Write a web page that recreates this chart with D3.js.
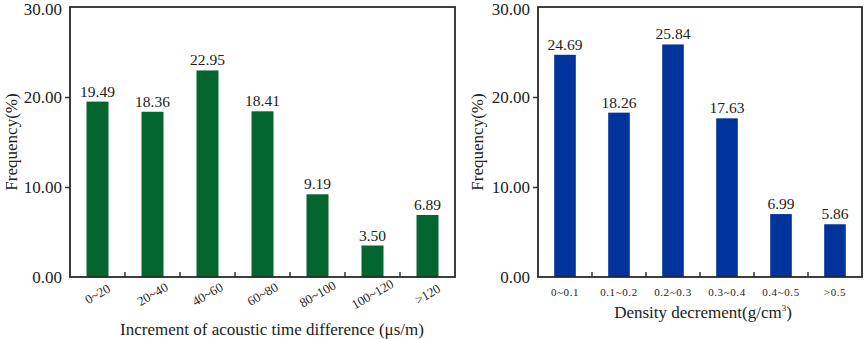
<!DOCTYPE html>
<html>
<head>
<meta charset="utf-8">
<script src="https://cdn.jsdelivr.net/npm/d3@7"></script>
<style>
  body { margin: 0; background: #fff; }
  svg text { font-family: "Liberation Serif", "Times New Roman", serif; fill: #222; }
</style>
</head>
<body>
<div id="chart"></div>
<script>
// data
var acousticCats = ['0~20', '20~40', '40~60', '60~80', '80~100', '100~120', '>120'];
var acousticFreq = [19.49, 18.36, 22.95, 18.41, 9.19, 3.50, 6.89];
var densityCats = ['0~0.1', '0.1~0.2', '0.2~0.3', '0.3~0.4', '0.4~0.5', '>0.5'];
var densityFreq = [24.69, 18.26, 25.84, 17.63, 6.99, 5.86];
var yTicks = [0, 10, 20, 30];

var svg = d3.select('#chart').append('svg')
    .attr('width', 865)
    .attr('height', 339);

function drawPanel(cfg) {
    var x = d3.scaleBand()
        .domain(cfg.cats)
        .range([cfg.left, cfg.right])
        .paddingInner(0.6)
        .paddingOuter(0.3);
    var y = d3.scaleLinear()
        .domain([0, 30])
        .range([cfg.bottom, cfg.top]);
    var g = svg.append('g');
    var step = x.step();

    // bars
    g.selectAll('.bar')
        .data(cfg.values)
        .enter()
        .append('rect')
        .attr('x', function (d, i) { return x(cfg.cats[i]); })
        .attr('y', function (d) { return y(d); })
        .attr('width', x.bandwidth())
        .attr('height', function (d) { return cfg.bottom - y(d); })
        .attr('fill', cfg.color);

    // value labels
    g.selectAll('.val')
        .data(cfg.values)
        .enter()
        .append('text')
        .attr('x', function (d, i) { return x(cfg.cats[i]) + x.bandwidth() / 2; })
        .attr('y', function (d) { return y(d) - 5; })
        .attr('text-anchor', 'middle')
        .style('font-size', '15.5px')
        .text(function (d) { return d3.format('.2f')(d); });

    // y axis
    var yAxis = d3.axisLeft(y).tickValues(yTicks).tickFormat(d3.format('.2f')).tickSize(5).tickPadding(3);
    g.append('g')
        .attr('transform', 'translate(' + cfg.left + ',0)')
        .call(yAxis)
        .call(function (a) {
            a.select('.domain').remove();
            a.selectAll('.tick line').attr('stroke', '#333').attr('stroke-width', 1.5)
                .attr('display', function (d) { return (d === 0 || d === 30) ? 'none' : null; });
            a.selectAll('.tick text').style('font-size', '17px').attr('fill', '#222')
                .attr('y', function (d) { return d === 30 ? 2 : 0; });
        });

    // inner ticks at category boundaries
    g.selectAll('.xtick')
        .data(cfg.cats.slice(1))
        .enter()
        .append('line')
        .attr('x1', function (d) { return x(d) - step * 0.3; })
        .attr('x2', function (d) { return x(d) - step * 0.3; })
        .attr('y1', cfg.bottom)
        .attr('y2', cfg.bottom - 5)
        .attr('stroke', '#333')
        .attr('stroke-width', 1.5);

    // frame
    g.append('rect')
        .attr('x', cfg.left)
        .attr('y', cfg.top)
        .attr('width', cfg.right - cfg.left)
        .attr('height', cfg.bottom - cfg.top)
        .attr('fill', 'none')
        .attr('stroke', '#2a2a2a')
        .attr('stroke-width', 1.8);

    // category labels
    g.selectAll('.cat')
        .data(cfg.cats)
        .enter()
        .append('text')
        .attr('text-anchor', 'middle')
        .attr('transform', function (d) {
            var cx = x(d) + x.bandwidth() / 2;
            return 'translate(' + cx + ',' + cfg.catY + ') rotate(' + cfg.catRotate + ')';
        })
        .attr('dy', '0.35em')
        .style('font-size', cfg.catSize)
        .style('letter-spacing', cfg.catSpacing)
        .text(function (d) { return d; });

    // axis titles
    var t = g.append('text')
        .attr('x', cfg.titleX)
        .attr('y', cfg.titleY)
        .attr('text-anchor', 'middle')
        .style('font-size', '17px');
    t.append('tspan').text(cfg.title);
    if (cfg.titleSup) {
        t.append('tspan').attr('dy', -7).style('font-size', '9px').text(cfg.titleSup);
        t.append('tspan').attr('dy', 7).text(')');
    }

    g.append('text')
        .attr('transform', 'translate(' + cfg.yTitleX + ',' + ((cfg.top + cfg.bottom) / 2) + ') rotate(-90)')
        .attr('text-anchor', 'middle')
        .style('font-size', '17px')
        .text('Frequency(%)');
}

drawPanel({
    cats: acousticCats, values: acousticFreq, color: '#04662f',
    left: 70, right: 455, top: 7, bottom: 277,
    catY: 294, catRotate: -30, catSize: '13px', catSpacing: '0px',
    title: 'Increment of acoustic time difference (\u03bcs/m)',
    titleX: 272, titleY: 335, yTitleX: 17
});

drawPanel({
    cats: densityCats, values: densityFreq, color: '#00339b',
    left: 538, right: 862, top: 7, bottom: 277,
    catY: 292, catRotate: 0, catSize: '11px', catSpacing: '0.6px',
    title: 'Density decrement(g/cm', titleSup: '3',
    titleX: 703, titleY: 318, yTitleX: 483
});
</script>
</body>
</html>
